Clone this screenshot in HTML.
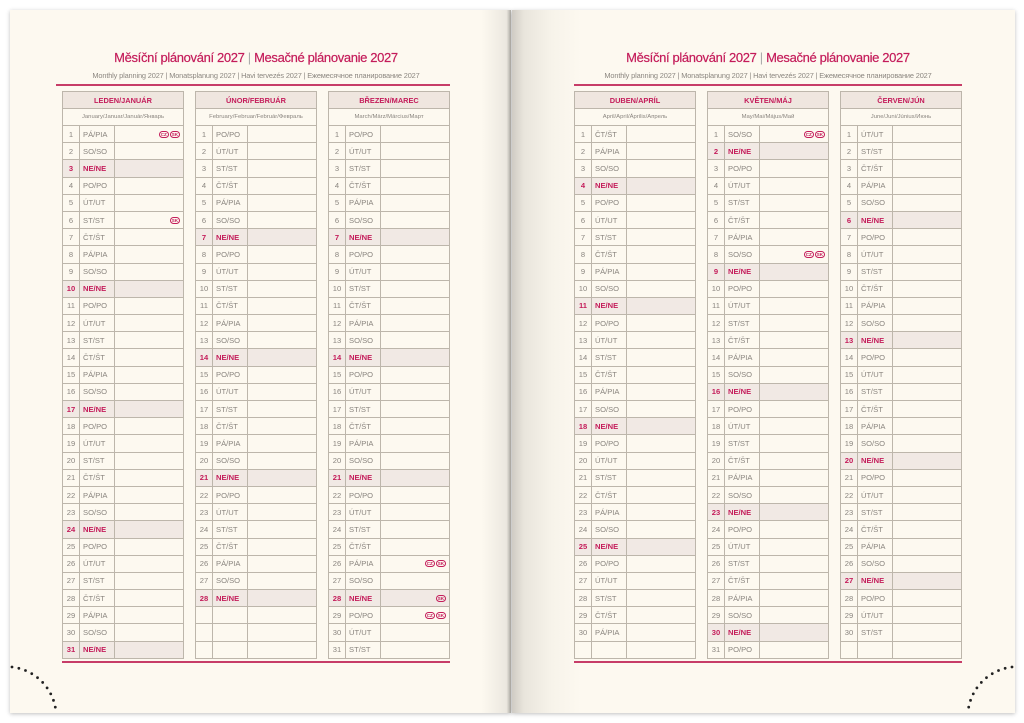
<!DOCTYPE html>
<html><head><meta charset="utf-8">
<style>
*{margin:0;padding:0;box-sizing:border-box}
body{width:1024px;height:723px;background:#fff;position:relative;overflow:hidden;font-family:"Liberation Sans",sans-serif}
.pg{position:absolute;top:10px;height:703px;background:#fdf9f0;box-shadow:0 1px 4px rgba(0,0,0,.25)}
#L{left:10px;width:501px}
#R{left:512px;width:503px;background:linear-gradient(90deg,#cfcbc4 0,#e9e5dc 12px,#f7f3ea 40px,#fdf9f0 70px)}
#L:after{content:"";position:absolute;right:0;top:0;width:30px;height:100%;background:linear-gradient(90deg,rgba(0,0,0,0),rgba(0,0,0,.07) 85%,rgba(0,0,0,.3))}
.t1{position:absolute;top:50px;width:400px;text-align:center;color:#c41c5a;font-size:13px;letter-spacing:-0.35px;-webkit-text-stroke:0.2px #c41c5a}
.t1 i{font-style:normal;color:#aaa;font-weight:300;-webkit-text-stroke:0}
.t2{position:absolute;top:71px;width:420px;text-align:center;color:#8c8780;font-size:7.4px;letter-spacing:-0.15px}
.ln{position:absolute;height:2px;background:#c73d68}
table{position:absolute;top:91px;width:122px;border-collapse:collapse;table-layout:fixed;font-size:7.6px;color:#8a857f}
td{border:1px solid #bdb6ab;height:17.2px;padding:0 0 0 3px;white-space:nowrap;overflow:hidden}
td:first-child{text-align:center;padding:0}
tr.h td{height:17px;background:#efe6df;text-align:center;color:#c41c5a;font-weight:bold;font-size:7.4px;padding:0}
tr.g td{height:17px;text-align:center;font-size:5.9px;padding:0}
tr.s td{background:#f1e9e4;color:#c41c5a;font-weight:bold}
.b{float:right;margin-right:3px;display:inline-block;border:1px solid #c41c5a;border-radius:4px;font-size:4.5px;line-height:5px;padding:0 1px;color:#c41c5a;font-weight:bold;margin-left:1px}
.b+.b{margin-right:0}
</style></head><body>
<div class="pg" id="L"></div>
<div class="pg" id="R"></div>

<div class="t1" style="left:56px">Měsíční plánování 2027 <i>|</i> Mesačné plánovanie 2027</div>
<div class="t2" style="left:46px">Monthly planning 2027 | Monatsplanung 2027 | Havi tervezés 2027 | Ежемесячное планирование 2027</div>
<div class="ln" style="left:56px;width:394px;top:84px"></div>
<div class="ln" style="left:62px;width:388px;top:661px"></div>

<div class="t1" style="left:568px">Měsíční plánování 2027 <i>|</i> Mesačné plánovanie 2027</div>
<div class="t2" style="left:558px">Monthly planning 2027 | Monatsplanung 2027 | Havi tervezés 2027 | Ежемесячное планирование 2027</div>
<div class="ln" style="left:574px;width:388px;top:84px"></div>
<div class="ln" style="left:574px;width:388px;top:661px"></div>

<table style="left:62px"><colgroup><col style="width:17px"><col style="width:35px"><col></colgroup>
<tr class="h"><td colspan="3">LEDEN/JANUÁR</td></tr>
<tr class="g"><td colspan="3">January/Januar/Január/Январь</td></tr>
<tr><td>1<td>PÁ/PIA<td><span class="b">SK</span><span class="b">CZ</span></tr>
<tr><td>2<td>SO/SO<td></tr>
<tr class="s"><td>3<td>NE/NE<td></tr>
<tr><td>4<td>PO/PO<td></tr>
<tr><td>5<td>ÚT/UT<td></tr>
<tr><td>6<td>ST/ST<td><span class="b">SK</span></tr>
<tr><td>7<td>ČT/ŠT<td></tr>
<tr><td>8<td>PÁ/PIA<td></tr>
<tr><td>9<td>SO/SO<td></tr>
<tr class="s"><td>10<td>NE/NE<td></tr>
<tr><td>11<td>PO/PO<td></tr>
<tr><td>12<td>ÚT/UT<td></tr>
<tr><td>13<td>ST/ST<td></tr>
<tr><td>14<td>ČT/ŠT<td></tr>
<tr><td>15<td>PÁ/PIA<td></tr>
<tr><td>16<td>SO/SO<td></tr>
<tr class="s"><td>17<td>NE/NE<td></tr>
<tr><td>18<td>PO/PO<td></tr>
<tr><td>19<td>ÚT/UT<td></tr>
<tr><td>20<td>ST/ST<td></tr>
<tr><td>21<td>ČT/ŠT<td></tr>
<tr><td>22<td>PÁ/PIA<td></tr>
<tr><td>23<td>SO/SO<td></tr>
<tr class="s"><td>24<td>NE/NE<td></tr>
<tr><td>25<td>PO/PO<td></tr>
<tr><td>26<td>ÚT/UT<td></tr>
<tr><td>27<td>ST/ST<td></tr>
<tr><td>28<td>ČT/ŠT<td></tr>
<tr><td>29<td>PÁ/PIA<td></tr>
<tr><td>30<td>SO/SO<td></tr>
<tr class="s"><td>31<td>NE/NE<td></tr>
</table>

<table style="left:195px"><colgroup><col style="width:17px"><col style="width:35px"><col></colgroup>
<tr class="h"><td colspan="3">ÚNOR/FEBRUÁR</td></tr>
<tr class="g"><td colspan="3">February/Februar/Február/Февраль</td></tr>
<tr><td>1<td>PO/PO<td></tr>
<tr><td>2<td>ÚT/UT<td></tr>
<tr><td>3<td>ST/ST<td></tr>
<tr><td>4<td>ČT/ŠT<td></tr>
<tr><td>5<td>PÁ/PIA<td></tr>
<tr><td>6<td>SO/SO<td></tr>
<tr class="s"><td>7<td>NE/NE<td></tr>
<tr><td>8<td>PO/PO<td></tr>
<tr><td>9<td>ÚT/UT<td></tr>
<tr><td>10<td>ST/ST<td></tr>
<tr><td>11<td>ČT/ŠT<td></tr>
<tr><td>12<td>PÁ/PIA<td></tr>
<tr><td>13<td>SO/SO<td></tr>
<tr class="s"><td>14<td>NE/NE<td></tr>
<tr><td>15<td>PO/PO<td></tr>
<tr><td>16<td>ÚT/UT<td></tr>
<tr><td>17<td>ST/ST<td></tr>
<tr><td>18<td>ČT/ŠT<td></tr>
<tr><td>19<td>PÁ/PIA<td></tr>
<tr><td>20<td>SO/SO<td></tr>
<tr class="s"><td>21<td>NE/NE<td></tr>
<tr><td>22<td>PO/PO<td></tr>
<tr><td>23<td>ÚT/UT<td></tr>
<tr><td>24<td>ST/ST<td></tr>
<tr><td>25<td>ČT/ŠT<td></tr>
<tr><td>26<td>PÁ/PIA<td></tr>
<tr><td>27<td>SO/SO<td></tr>
<tr class="s"><td>28<td>NE/NE<td></tr>
<tr><td><td><td></tr>
<tr><td><td><td></tr>
<tr><td><td><td></tr>
</table>

<table style="left:328px"><colgroup><col style="width:17px"><col style="width:35px"><col></colgroup>
<tr class="h"><td colspan="3">BŘEZEN/MAREC</td></tr>
<tr class="g"><td colspan="3">March/März/Március/Март</td></tr>
<tr><td>1<td>PO/PO<td></tr>
<tr><td>2<td>ÚT/UT<td></tr>
<tr><td>3<td>ST/ST<td></tr>
<tr><td>4<td>ČT/ŠT<td></tr>
<tr><td>5<td>PÁ/PIA<td></tr>
<tr><td>6<td>SO/SO<td></tr>
<tr class="s"><td>7<td>NE/NE<td></tr>
<tr><td>8<td>PO/PO<td></tr>
<tr><td>9<td>ÚT/UT<td></tr>
<tr><td>10<td>ST/ST<td></tr>
<tr><td>11<td>ČT/ŠT<td></tr>
<tr><td>12<td>PÁ/PIA<td></tr>
<tr><td>13<td>SO/SO<td></tr>
<tr class="s"><td>14<td>NE/NE<td></tr>
<tr><td>15<td>PO/PO<td></tr>
<tr><td>16<td>ÚT/UT<td></tr>
<tr><td>17<td>ST/ST<td></tr>
<tr><td>18<td>ČT/ŠT<td></tr>
<tr><td>19<td>PÁ/PIA<td></tr>
<tr><td>20<td>SO/SO<td></tr>
<tr class="s"><td>21<td>NE/NE<td></tr>
<tr><td>22<td>PO/PO<td></tr>
<tr><td>23<td>ÚT/UT<td></tr>
<tr><td>24<td>ST/ST<td></tr>
<tr><td>25<td>ČT/ŠT<td></tr>
<tr><td>26<td>PÁ/PIA<td><span class="b">SK</span><span class="b">CZ</span></tr>
<tr><td>27<td>SO/SO<td></tr>
<tr class="s"><td>28<td>NE/NE<td><span class="b">SK</span></tr>
<tr><td>29<td>PO/PO<td><span class="b">SK</span><span class="b">CZ</span></tr>
<tr><td>30<td>ÚT/UT<td></tr>
<tr><td>31<td>ST/ST<td></tr>
</table>

<table style="left:574px"><colgroup><col style="width:17px"><col style="width:35px"><col></colgroup>
<tr class="h"><td colspan="3">DUBEN/APRÍL</td></tr>
<tr class="g"><td colspan="3">April/April/Április/Апрель</td></tr>
<tr><td>1<td>ČT/ŠT<td></tr>
<tr><td>2<td>PÁ/PIA<td></tr>
<tr><td>3<td>SO/SO<td></tr>
<tr class="s"><td>4<td>NE/NE<td></tr>
<tr><td>5<td>PO/PO<td></tr>
<tr><td>6<td>ÚT/UT<td></tr>
<tr><td>7<td>ST/ST<td></tr>
<tr><td>8<td>ČT/ŠT<td></tr>
<tr><td>9<td>PÁ/PIA<td></tr>
<tr><td>10<td>SO/SO<td></tr>
<tr class="s"><td>11<td>NE/NE<td></tr>
<tr><td>12<td>PO/PO<td></tr>
<tr><td>13<td>ÚT/UT<td></tr>
<tr><td>14<td>ST/ST<td></tr>
<tr><td>15<td>ČT/ŠT<td></tr>
<tr><td>16<td>PÁ/PIA<td></tr>
<tr><td>17<td>SO/SO<td></tr>
<tr class="s"><td>18<td>NE/NE<td></tr>
<tr><td>19<td>PO/PO<td></tr>
<tr><td>20<td>ÚT/UT<td></tr>
<tr><td>21<td>ST/ST<td></tr>
<tr><td>22<td>ČT/ŠT<td></tr>
<tr><td>23<td>PÁ/PIA<td></tr>
<tr><td>24<td>SO/SO<td></tr>
<tr class="s"><td>25<td>NE/NE<td></tr>
<tr><td>26<td>PO/PO<td></tr>
<tr><td>27<td>ÚT/UT<td></tr>
<tr><td>28<td>ST/ST<td></tr>
<tr><td>29<td>ČT/ŠT<td></tr>
<tr><td>30<td>PÁ/PIA<td></tr>
<tr><td><td><td></tr>
</table>

<table style="left:707px"><colgroup><col style="width:17px"><col style="width:35px"><col></colgroup>
<tr class="h"><td colspan="3">KVĚTEN/MÁJ</td></tr>
<tr class="g"><td colspan="3">May/Mai/Május/Май</td></tr>
<tr><td>1<td>SO/SO<td><span class="b">SK</span><span class="b">CZ</span></tr>
<tr class="s"><td>2<td>NE/NE<td></tr>
<tr><td>3<td>PO/PO<td></tr>
<tr><td>4<td>ÚT/UT<td></tr>
<tr><td>5<td>ST/ST<td></tr>
<tr><td>6<td>ČT/ŠT<td></tr>
<tr><td>7<td>PÁ/PIA<td></tr>
<tr><td>8<td>SO/SO<td><span class="b">SK</span><span class="b">CZ</span></tr>
<tr class="s"><td>9<td>NE/NE<td></tr>
<tr><td>10<td>PO/PO<td></tr>
<tr><td>11<td>ÚT/UT<td></tr>
<tr><td>12<td>ST/ST<td></tr>
<tr><td>13<td>ČT/ŠT<td></tr>
<tr><td>14<td>PÁ/PIA<td></tr>
<tr><td>15<td>SO/SO<td></tr>
<tr class="s"><td>16<td>NE/NE<td></tr>
<tr><td>17<td>PO/PO<td></tr>
<tr><td>18<td>ÚT/UT<td></tr>
<tr><td>19<td>ST/ST<td></tr>
<tr><td>20<td>ČT/ŠT<td></tr>
<tr><td>21<td>PÁ/PIA<td></tr>
<tr><td>22<td>SO/SO<td></tr>
<tr class="s"><td>23<td>NE/NE<td></tr>
<tr><td>24<td>PO/PO<td></tr>
<tr><td>25<td>ÚT/UT<td></tr>
<tr><td>26<td>ST/ST<td></tr>
<tr><td>27<td>ČT/ŠT<td></tr>
<tr><td>28<td>PÁ/PIA<td></tr>
<tr><td>29<td>SO/SO<td></tr>
<tr class="s"><td>30<td>NE/NE<td></tr>
<tr><td>31<td>PO/PO<td></tr>
</table>

<table style="left:840px"><colgroup><col style="width:17px"><col style="width:35px"><col></colgroup>
<tr class="h"><td colspan="3">ČERVEN/JÚN</td></tr>
<tr class="g"><td colspan="3">June/Juni/Június/Июнь</td></tr>
<tr><td>1<td>ÚT/UT<td></tr>
<tr><td>2<td>ST/ST<td></tr>
<tr><td>3<td>ČT/ŠT<td></tr>
<tr><td>4<td>PÁ/PIA<td></tr>
<tr><td>5<td>SO/SO<td></tr>
<tr class="s"><td>6<td>NE/NE<td></tr>
<tr><td>7<td>PO/PO<td></tr>
<tr><td>8<td>ÚT/UT<td></tr>
<tr><td>9<td>ST/ST<td></tr>
<tr><td>10<td>ČT/ŠT<td></tr>
<tr><td>11<td>PÁ/PIA<td></tr>
<tr><td>12<td>SO/SO<td></tr>
<tr class="s"><td>13<td>NE/NE<td></tr>
<tr><td>14<td>PO/PO<td></tr>
<tr><td>15<td>ÚT/UT<td></tr>
<tr><td>16<td>ST/ST<td></tr>
<tr><td>17<td>ČT/ŠT<td></tr>
<tr><td>18<td>PÁ/PIA<td></tr>
<tr><td>19<td>SO/SO<td></tr>
<tr class="s"><td>20<td>NE/NE<td></tr>
<tr><td>21<td>PO/PO<td></tr>
<tr><td>22<td>ÚT/UT<td></tr>
<tr><td>23<td>ST/ST<td></tr>
<tr><td>24<td>ČT/ŠT<td></tr>
<tr><td>25<td>PÁ/PIA<td></tr>
<tr><td>26<td>SO/SO<td></tr>
<tr class="s"><td>27<td>NE/NE<td></tr>
<tr><td>28<td>PO/PO<td></tr>
<tr><td>29<td>ÚT/UT<td></tr>
<tr><td>30<td>ST/ST<td></tr>
<tr><td><td><td></tr>
</table>

<svg width="1024" height="723" style="position:absolute;left:0;top:0">
<path d="M12 667 A50 50 0 0 1 56 712" fill="none" stroke="#222" stroke-width="2.8" stroke-linecap="round" stroke-dasharray="0 7"/>
<path d="M1012 667 A50 50 0 0 0 968 712" fill="none" stroke="#222" stroke-width="2.8" stroke-linecap="round" stroke-dasharray="0 7"/>
</svg>
</body></html>
